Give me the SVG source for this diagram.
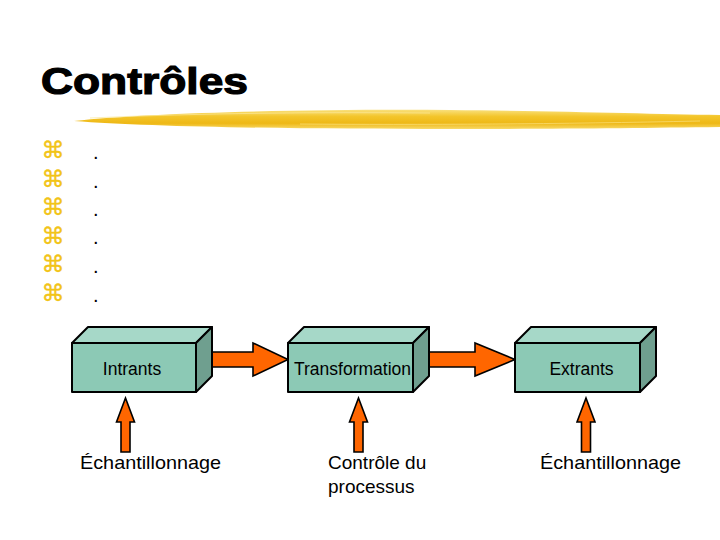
<svg xmlns="http://www.w3.org/2000/svg" width="720" height="540" viewBox="0 0 720 540">
<style>
.title{font-family:"Liberation Sans",Arial,sans-serif;font-weight:bold;font-size:37px;fill:#000;stroke:#000;stroke-width:1.2}
.bul{font-family:"DejaVu Sans",sans-serif;font-size:23px;fill:#f2c417;stroke:#f2c417;stroke-width:0.4}
.dot{font-family:"Liberation Sans",Arial,sans-serif;font-size:20px;fill:#000}
.lbl{font-family:"Liberation Sans",Arial,sans-serif;font-size:17.5px;fill:#000;text-anchor:middle}
.cap{font-family:"Liberation Sans",Arial,sans-serif;font-size:19px;fill:#000}
.front{fill:#8cc9b5;stroke:#000;stroke-width:2;stroke-linejoin:round}
.top{fill:#a6d8c8;stroke:#000;stroke-width:2;stroke-linejoin:round}
.side{fill:#6f9f8f;stroke:#000;stroke-width:2;stroke-linejoin:round}
.arr{fill:#ff6600;stroke:#000;stroke-width:1.6;stroke-linejoin:miter}
</style>
<defs>
<linearGradient id="brush" x1="0" y1="0" x2="0" y2="1">
<stop offset="0" stop-color="#f9e07c"/>
<stop offset="0.35" stop-color="#f3c52a"/>
<stop offset="0.7" stop-color="#eeb816"/>
<stop offset="1" stop-color="#f8d968"/>
</linearGradient>
</defs>
<rect width="720" height="540" fill="#fff"/>
<g id="title">
<text class="title" x="41" y="94" textLength="207" lengthAdjust="spacingAndGlyphs">Contrôles</text>
<path d="M74,121 C150,113 300,109 450,110 C560,111 650,114 720,115 L720,127 C640,128 560,129 450,129 C300,129 150,127 74,121 Z" fill="url(#brush)"/>
<path d="M90,118 C200,113 320,112 430,113" fill="none" stroke="#fbe89a" stroke-width="1" opacity="0.7"/>
<path d="M300,124 C420,125 560,124 700,121" fill="none" stroke="#f9e07c" stroke-width="1" opacity="0.7"/>
</g>
<g id="bullets">
<text class="bul" x="53" y="158" text-anchor="middle">⌘</text>
<text class="bul" x="53" y="187" text-anchor="middle">⌘</text>
<text class="bul" x="53" y="215" text-anchor="middle">⌘</text>
<text class="bul" x="53" y="244" text-anchor="middle">⌘</text>
<text class="bul" x="53" y="272" text-anchor="middle">⌘</text>
<text class="bul" x="53" y="301" text-anchor="middle">⌘</text>
<text class="dot" x="93" y="159">.</text>
<text class="dot" x="93" y="188">.</text>
<text class="dot" x="93" y="216">.</text>
<text class="dot" x="93" y="244">.</text>
<text class="dot" x="93" y="273">.</text>
<text class="dot" x="93" y="302">.</text>
</g>
<g id="connectors">
<path class="arr" d="M212,352 L253,352 L253,343 L288,359.5 L253,376 L253,367 L212,367 Z"/>
<path class="arr" d="M428,352 L475,352 L475,343 L515,359.5 L475,376 L475,367 L428,367 Z"/>
<path class="arr" d="M125.5,398 L134.5,422 L130,422 L130,452 L121,452 L121,422 L116.5,422 Z"/>
<path class="arr" d="M358.5,398 L367.5,422 L363,422 L363,452 L354,452 L354,422 L349.5,422 Z"/>
<path class="arr" d="M586,398 L595,422 L590.5,422 L590.5,452 L581.5,452 L581.5,422 L577,422 Z"/>
</g>
<g id="intrants">
<polygon class="top" points="72,343 88,327 212,327 196,343"/>
<polygon class="side" points="196,343 212,327 212,376 196,392"/>
<rect class="front" x="72" y="343" width="124" height="49"/>
<text class="lbl" x="132" y="375">Intrants</text>
</g>
<g id="transformation">
<polygon class="top" points="288,343 304,327 429,327 413,343"/>
<polygon class="side" points="413,343 429,327 429,376 413,392"/>
<rect class="front" x="288" y="343" width="125" height="49"/>
<text class="lbl" x="352.5" y="375">Transformation</text>
</g>
<g id="extrants">
<polygon class="top" points="515,343 531,327 656,327 640,343"/>
<polygon class="side" points="640,343 656,327 656,376 640,392"/>
<rect class="front" x="515" y="343" width="125" height="49"/>
<text class="lbl" x="581.5" y="375">Extrants</text>
</g>
<g id="echantillonnage1">
<text class="cap" x="80" y="469" textLength="141" lengthAdjust="spacingAndGlyphs">Échantillonnage</text>
</g>
<g id="controle">
<text class="cap" x="328" y="469">Contrôle du</text>
<text class="cap" x="328" y="493">processus</text>
</g>
<g id="echantillonnage2">
<text class="cap" x="540" y="469" textLength="141" lengthAdjust="spacingAndGlyphs">Échantillonnage</text>
</g>
</svg>
